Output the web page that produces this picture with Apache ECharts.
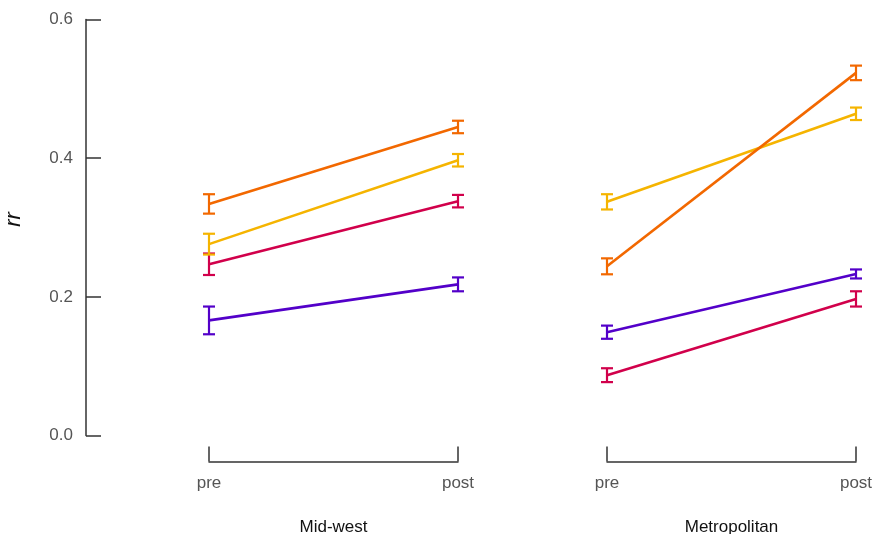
<!DOCTYPE html>
<html>
<head>
<meta charset="utf-8">
<script src="https://cdn.jsdelivr.net/npm/echarts@6/dist/echarts.min.js"></script>
<style>html,body{margin:0;padding:0;background:#fff}#c{width:875px;height:534px}</style>
</head>
<body>
<div id="c"></div>
<script>
var categories = ['pre', 'post'];
var panels = ['Mid-west', 'Metropolitan'];
var yTicks = [0, 0.2, 0.4, 0.6];
var groupNames = ['purple', 'red', 'yellow', 'orange'];
var groupColors = ['#5300C9', '#D1004B', '#F5B400', '#F26800'];

var midwestPurple = [0.166, 0.218];
var midwestPurpleErr = [0.020, 0.010];
var midwestRed = [0.247, 0.338];
var midwestRedErr = [0.0155, 0.009];
var midwestYellow = [0.276, 0.397];
var midwestYellowErr = [0.015, 0.009];
var midwestOrange = [0.334, 0.445];
var midwestOrangeErr = [0.014, 0.009];

var metroPurple = [0.149, 0.233];
var metroPurpleErr = [0.0095, 0.0065];
var metroRed = [0.087, 0.197];
var metroRedErr = [0.010, 0.011];
var metroYellow = [0.337, 0.464];
var metroYellowErr = [0.011, 0.009];
var metroOrange = [0.244, 0.523];
var metroOrangeErr = [0.0115, 0.0105];

var panelValues = [
  [midwestPurple, midwestRed, midwestYellow, midwestOrange],
  [metroPurple, metroRed, metroYellow, metroOrange]
];
var panelErrors = [
  [midwestPurpleErr, midwestRedErr, midwestYellowErr, midwestOrangeErr],
  [metroPurpleErr, metroRedErr, metroYellowErr, metroOrangeErr]
];

var axisColor = '#333333';
var labelColor = '#555555';
var fontFam = 'Liberation Sans, Arial, sans-serif';

var grids = [
  {left: 209, width: 249, top: 19.5, height: 416, containLabel: false, outerBoundsMode: 'none'},
  {left: 607, width: 249, top: 19.5, height: 416, containLabel: false, outerBoundsMode: 'none'}
];

var xAxes = panels.map(function (p, i) {
  return {
    type: 'category', gridIndex: i, data: categories, boundaryGap: false,
    offset: 26,
    axisLine: {show: true, onZero: false, lineStyle: {color: axisColor, width: 1.5}},
    axisTick: {show: true, inside: true, length: 15, lineStyle: {color: axisColor, width: 1.5}},
    axisLabel: {color: labelColor, fontSize: 17, fontFamily: fontFam, margin: 13},
    name: p, nameLocation: 'middle', nameGap: 57,
    nameTextStyle: {color: '#111', fontSize: 17, fontFamily: fontFam}
  };
});

var yAxes = panels.map(function (p, i) {
  var show = i === 0;
  return {
    type: 'value', gridIndex: i, min: 0, max: 0.6, interval: 0.2,
    show: show,
    position: 'left', offset: show ? 123 : 0,
    splitLine: {show: false},
    axisLine: {show: true, onZero: false, lineStyle: {color: axisColor, width: 1.5}},
    axisTick: {show: true, inside: true, length: 15, lineStyle: {color: axisColor, width: 1.5}},
    axisLabel: {color: labelColor, fontSize: 17, fontFamily: fontFam, margin: 13,
      formatter: function (v) { return v.toFixed(1); }},
    name: show ? 'rr' : '', nameLocation: 'middle', nameGap: 61,
    nameTextStyle: {color: '#111', fontSize: 22, fontStyle: 'italic', fontFamily: fontFam, padding: [0, 0, 0, 16]}
  };
});

var series = [];
panels.forEach(function (p, pi) {
  groupNames.forEach(function (g, gi) {
    var vals = panelValues[pi][gi];
    var errs = panelErrors[pi][gi];
    series.push({
      type: 'line', name: g, xAxisIndex: pi, yAxisIndex: pi,
      data: vals, symbol: 'none', silent: true, z: 2 + gi,
      lineStyle: {color: groupColors[gi], width: 2.6}
    });
    series.push({
      type: 'custom', name: g + ' err', xAxisIndex: pi, yAxisIndex: pi, z: 2 + gi,
      data: vals.map(function (v, k) { return [k, v - errs[k], v + errs[k]]; }),
      renderItem: function (params, api) {
        var lo = api.coord([api.value(0), api.value(1)]);
        var hi = api.coord([api.value(0), api.value(2)]);
        var hw = 6;
        var st = {stroke: groupColors[gi], lineWidth: 2.2, fill: null};
        return {type: 'group', children: [
          {type: 'line', shape: {x1: lo[0], y1: lo[1], x2: hi[0], y2: hi[1]}, style: st},
          {type: 'line', shape: {x1: lo[0] - hw, y1: lo[1], x2: lo[0] + hw, y2: lo[1]}, style: st},
          {type: 'line', shape: {x1: hi[0] - hw, y1: hi[1], x2: hi[0] + hw, y2: hi[1]}, style: st}
        ]};
      }
    });
  });
});

var chart = echarts.init(document.getElementById('c'), null, {renderer: 'canvas'});
chart.setOption({
  animation: false,
  backgroundColor: '#ffffff',
  grid: grids,
  xAxis: xAxes,
  yAxis: yAxes,
  series: series
});
</script>
</body>
</html>
